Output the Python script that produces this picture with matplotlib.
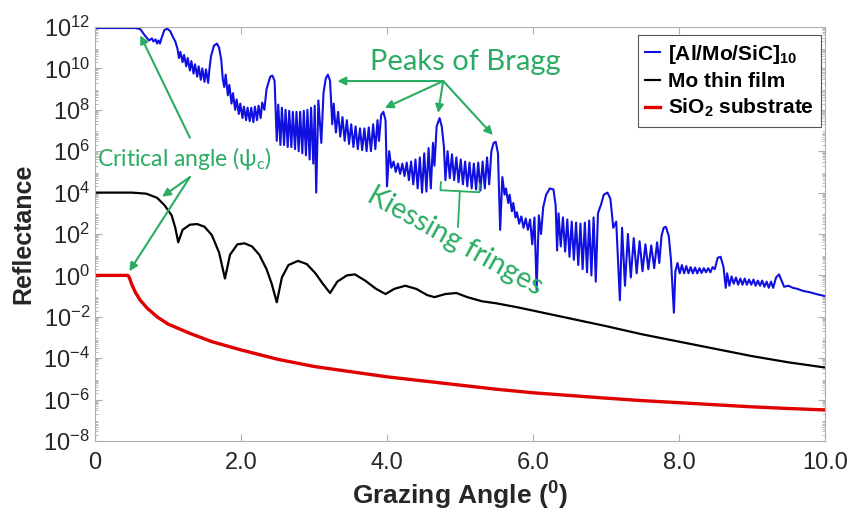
import matplotlib
matplotlib.use("Agg")
import matplotlib.pyplot as plt
from matplotlib.ticker import FixedLocator, FuncFormatter, LogLocator, NullFormatter
import numpy as np

# Blue: [Al/Mo/SiC]10 multilayer, x in degrees, y as log10(reflectance)
blue_x = [0, 0.55, 0.62, 0.68, 0.74, 0.78, 0.80, 0.83, 0.85, 0.87, 0.89, 0.91, 0.95, 0.99, 1.03, 1.07, 1.10,
          1.13, 1.15, 1.17, 1.20, 1.22, 1.25, 1.27, 1.30, 1.32, 1.35, 1.37, 1.40, 1.42, 1.45, 1.47, 1.50, 1.52, 1.55, 1.57, 1.59, 1.63, 1.67, 1.70, 1.73,
          1.75, 1.77, 1.79, 1.82, 1.84, 1.87, 1.89, 1.92, 1.94, 1.97, 1.99, 2.02, 2.04, 2.07, 2.09, 2.12, 2.14, 2.17, 2.19, 2.22, 2.24, 2.27, 2.29, 2.32, 2.35, 2.40, 2.43, 2.46,
          2.49, 2.51, 2.54, 2.56, 2.59, 2.61, 2.64, 2.66, 2.69, 2.71, 2.74, 2.76, 2.79, 2.81, 2.84, 2.86, 2.89, 2.91, 2.94, 2.96, 2.99, 3.01, 3.03, 3.06, 3.10, 3.13, 3.16, 3.19, 3.22, 3.25,
          3.27, 3.30, 3.33, 3.36, 3.39, 3.42, 3.45, 3.48, 3.51, 3.54, 3.57, 3.60, 3.63, 3.66, 3.69, 3.72, 3.75, 3.78, 3.81, 3.84, 3.87, 3.89, 3.92, 3.95, 3.98,
          4.00, 4.03, 4.06, 4.09, 4.12, 4.15, 4.18, 4.21, 4.24, 4.27, 4.30, 4.33, 4.36, 4.39, 4.42, 4.45, 4.48, 4.51, 4.54, 4.57, 4.60, 4.63, 4.65, 4.68, 4.72, 4.75,
          4.78, 4.80, 4.83, 4.86, 4.89, 4.92, 4.95, 4.98, 5.01, 5.04, 5.07, 5.10, 5.13, 5.16, 5.19, 5.22, 5.25, 5.28, 5.31, 5.34, 5.37, 5.40, 5.43, 5.46, 5.49, 5.52,
          5.55, 5.58, 5.61, 5.63, 5.66, 5.68, 5.71, 5.73, 5.76, 5.78, 5.81, 5.84, 5.87, 5.90, 5.93, 5.96, 5.99, 6.02, 6.05, 6.08, 6.11, 6.14, 6.18, 6.23, 6.28, 6.31,
          6.33, 6.35, 6.38, 6.41, 6.44, 6.47, 6.50, 6.53, 6.56, 6.59, 6.62, 6.65, 6.68, 6.71, 6.74, 6.77, 6.80, 6.83, 6.86, 6.89, 6.93, 6.97, 7.02, 7.06,
          7.10, 7.14, 7.19, 7.22, 7.26, 7.30, 7.34, 7.38, 7.42, 7.46, 7.50, 7.54, 7.58, 7.62, 7.66, 7.70, 7.73, 7.76, 7.79, 7.82, 7.86, 7.89, 7.93,
          7.95, 7.98, 8.01, 8.04, 8.07, 8.10, 8.13, 8.16, 8.19, 8.22, 8.25, 8.28, 8.31, 8.34, 8.37, 8.40, 8.43, 8.46, 8.49, 8.53, 8.57, 8.61, 8.64,
          8.66, 8.69, 8.72, 8.75, 8.78, 8.81, 8.84, 8.87, 8.90, 8.93, 8.96, 8.99, 9.02, 9.05, 9.08, 9.11, 9.14, 9.17, 9.20, 9.23, 9.26, 9.29,
          9.33, 9.37, 9.41, 9.44, 9.50, 9.56, 9.62, 9.70, 9.80, 9.90, 10.0]
blue_r = [11.95, 11.95, 11.9, 11.6, 11.35, 11.45, 11.3, 11.4, 11.2, 11.35, 11.2, 11.45, 11.85, 11.92, 11.8, 11.5, 11.3,
          10.95, 10.5, 10.8, 10.3, 10.65, 10.1, 10.5, 9.9, 10.35, 9.75, 10.2, 9.6, 10.1, 9.45, 10.0, 9.35, 9.95, 9.3, 10.05, 10.6, 11.1, 11.2, 11.0, 10.4,
          9.5, 9.1, 9.7, 8.7, 9.2, 8.3, 8.8, 8.0, 8.5, 7.8, 8.3, 7.6, 8.15, 7.5, 8.1, 7.45, 8.1, 7.4, 8.15, 7.5, 8.2, 7.6, 8.35, 8.0, 9.0, 9.6, 9.65, 9.4,
          6.5, 8.25, 6.3, 8.1, 6.3, 8.0, 6.2, 7.95, 6.2, 7.9, 6.1, 7.9, 6.0, 7.9, 5.9, 7.95, 5.8, 8.0, 5.6, 8.1, 5.4, 8.2, 4.0, 8.45, 6.4, 8.8, 9.5, 9.7, 9.4, 7.3,
          8.3, 6.9, 7.9, 6.7, 7.65, 6.5, 7.5, 6.35, 7.3, 6.2, 7.2, 6.1, 7.1, 6.05, 7.1, 6.0, 7.15, 6.0, 7.3, 6.1, 7.5, 6.5, 7.75, 7.9, 7.5,
          4.3, 6.0, 5.2, 5.5, 5.0, 5.4, 4.9, 5.4, 4.8, 5.45, 4.6, 5.5, 4.4, 5.6, 4.2, 5.7, 4.0, 5.9, 4.05, 6.15, 4.2, 6.4, 5.3, 7.2, 7.6, 7.2,
          6.2, 4.6, 6.0, 4.7, 5.85, 4.6, 5.7, 4.5, 5.6, 4.4, 5.5, 4.3, 5.45, 4.2, 5.4, 4.15, 5.45, 4.1, 5.5, 4.2, 5.7, 4.4, 6.0, 6.4, 6.45, 5.9,
          2.2, 4.75, 3.9, 4.2, 3.5, 3.9, 3.1, 3.5, 2.8, 3.05, 2.5, 2.85, 2.3, 2.75, 2.2, 2.7, 1.5, 2.8, -0.7, 2.9, 2.0, 3.3, 3.9, 4.2, 4.15, 3.4,
          1.2, 3.0, 1.4, 2.8, 1.15, 2.7, 0.9, 2.6, 0.75, 2.55, 0.5, 2.5, 0.3, 2.55, 0.15, 2.65, 0.0, 2.8, -0.3, 3.0, 3.4, 3.9, 4.0, 3.7,
          2.3, 2.6, -1.2, 2.3, -0.5, 2.0, -0.1, 1.8, 0.1, 1.65, 0.2, 1.5, 0.3, 1.45, 0.35, 1.6, 0.6, 1.9, 2.3, 2.35, 1.9, 0.75, -1.8,
          0.2, 0.6, 0.1, 0.5, 0.1, 0.45, 0.1, 0.4, 0.1, 0.38, 0.1, 0.35, 0.12, 0.35, 0.15, 0.35, 0.15, 0.4, 0.3, 0.85, 0.9, 0.4, -0.6,
          0.1, -0.5, -0.05, -0.4, -0.1, -0.45, -0.15, -0.45, -0.15, -0.45, -0.2, -0.45, -0.2, -0.5, -0.25, -0.5, -0.25, -0.55, -0.3, -0.6, -0.3, -0.6,
          -0.1, 0.05, -0.3, -0.55, -0.5, -0.6, -0.65, -0.75, -0.82, -0.92, -1.0]

# Black: Mo thin film
mo_x = [0, 0.5, 0.7, 0.85, 0.95, 1.05, 1.10, 1.14, 1.20, 1.30, 1.40, 1.50, 1.60, 1.70, 1.78, 1.85, 1.95, 2.05, 2.15, 2.25,
        2.35, 2.42, 2.49, 2.56, 2.65, 2.78, 2.90, 3.02, 3.12, 3.22, 3.32, 3.45, 3.56, 3.70, 3.85, 3.98, 4.10, 4.25, 4.40, 4.55,
        4.65, 4.80, 4.95, 5.10, 5.30, 5.5, 5.8, 6.2, 6.6, 7.0, 7.5, 8.0, 8.5, 9.0, 9.5, 10.0]
mo_r = [4.0, 4.0, 3.95, 3.75, 3.4, 2.9, 2.3, 1.6, 2.2, 2.45, 2.48, 2.35, 1.95, 1.1, -0.15, 1.0, 1.5, 1.55, 1.4, 1.0,
        0.3, -0.4, -1.3, -0.1, 0.5, 0.7, 0.55, 0.1, -0.4, -0.85, -0.3, 0.0, 0.05, -0.25, -0.65, -0.9, -0.65, -0.5, -0.65, -0.95,
        -1.05, -0.9, -0.85, -1.05, -1.25, -1.35, -1.55, -1.85, -2.15, -2.45, -2.85, -3.2, -3.55, -3.9, -4.2, -4.45]

# Red: SiO2 substrate
sio2_x = [0, 0.45, 0.47, 0.5, 0.55, 0.62, 0.72, 0.85, 1.0, 1.3, 1.6, 2.0, 2.5, 3.0, 3.5, 4.0, 4.5, 5.0, 5.5, 6.0,
          6.5, 7.0, 7.5, 8.0, 8.5, 9.0, 9.5, 10.0]
sio2_r = [0.0, 0.0, -0.1, -0.4, -0.8, -1.2, -1.6, -2.0, -2.35, -2.8, -3.2, -3.6, -4.05, -4.4, -4.65, -4.9, -5.1, -5.3, -5.5, -5.67,
          -5.8, -5.93, -6.05, -6.15, -6.25, -6.35, -6.43, -6.5]

x_ticks = [0, 2, 4, 6, 8, 10]
x_ticklabels = ["0", "2.0", "4.0", "6.0", "8.0", "10.0"]
y_exps = [-8, -6, -4, -2, 0, 2, 4, 6, 8, 10, 12]

# Bragg peaks pointed at (x, log10 R)
bragg_x = [3.32, 3.97, 4.70, 5.45]
bragg_r = [9.39, 8.09, 7.85, 6.78]

font = ["Liberation Sans Narrow", "Liberation Sans", "DejaVu Sans"]
plt.rcParams["font.family"] = font
plt.rcParams["mathtext.fontset"] = "custom"
plt.rcParams["mathtext.rm"] = "Liberation Sans"
plt.rcParams["mathtext.bf"] = "Liberation Sans:bold"
plt.rcParams["mathtext.it"] = "Liberation Sans:italic"
green = "#2aac62"
ann_font = ["Lato", "DejaVu Sans"]

fig = plt.figure(figsize=(8.52, 5.32), dpi=100)
ax = fig.add_axes([95 / 852, 1 - 441 / 532, 730 / 852, 414 / 532])

ax.plot(blue_x, 10.0 ** np.array(blue_r), color="#1010e0", lw=1.5, label=r"[Al/Mo/SiC]$_{\mathbf{10}}$")
ax.plot(mo_x, 10.0 ** np.array(mo_r), color="black", lw=1.6, label="Mo thin film")
ax.plot(sio2_x, 10.0 ** np.array(sio2_r), color="#e00000", lw=2.4, label=r"SiO$_{\mathbf{2}}$ substrate")

ax.set_yscale("log")
ax.set_xlim(0, 10)
ax.set_ylim(1e-8, 1e12)
ax.xaxis.set_major_locator(FixedLocator(x_ticks))
ax.set_xticklabels(x_ticklabels)
ax.yaxis.set_major_locator(FixedLocator([10.0 ** e for e in y_exps]))
ax.yaxis.set_major_formatter(FuncFormatter(lambda v, p: r"$\mathregular{10^{%d}}$" % round(np.log10(v))))
ax.yaxis.set_minor_locator(LogLocator(base=10, subs=np.arange(2, 10), numticks=200))
ax.yaxis.set_minor_formatter(NullFormatter())

ax.tick_params(which="both", direction="in", top=True, right=True, colors="#b0b0b0",
               labelcolor="#262626", labelsize=17)
ax.tick_params(which="major", length=5)
ax.tick_params(which="minor", length=2.5)
ax.tick_params(axis="x", pad=8)
for s in ax.spines.values():
    s.set_color("#b0b0b0")
    s.set_linewidth(0.8)

ax.set_xlabel(r"Grazing Angle ($\mathbf{^0}$)", fontsize=19, fontweight="bold", color="#262626", labelpad=4)
ax.set_ylabel("Reflectance", fontsize=18, fontweight="bold", color="#262626", labelpad=6)

leg = ax.legend(loc="upper right", bbox_to_anchor=(0.998, 0.985), borderaxespad=0.1, handlelength=0.7,
                handletextpad=0.4, borderpad=0.35, labelspacing=0.3, fancybox=False, framealpha=1,
                prop={"family": font, "weight": "bold", "size": 15})
leg.get_frame().set_edgecolor("#555555")
leg.get_frame().set_linewidth(0.8)

# annotations
arrow = dict(arrowstyle="-|>", color=green, lw=1.5, mutation_scale=12, shrinkA=0, shrinkB=0)
ax.text(0.03, 10 ** 5.65, r"Critical angle ($\mathregular{\psi_c}$)", color=green, fontsize=16.5,
        family=ann_font, va="center", ha="left")
ax.annotate("", xy=(0.62, 10 ** 11.6), xytext=(1.30, 10 ** 6.65), arrowprops=arrow)
ax.annotate("", xy=(0.92, 10 ** 3.8), xytext=(1.30, 10 ** 4.75), arrowprops=arrow)
ax.annotate("", xy=(0.47, 10 ** 0.2), xytext=(1.30, 10 ** 4.75), arrowprops=arrow)

ax.text(5.07, 10 ** 10.3, "Peaks of Bragg", color=green, fontsize=21, family=ann_font,
        va="center", ha="center")
for bx, br in zip(bragg_x, bragg_r):
    ax.annotate("", xy=(bx, 10 ** br), xytext=(4.77, 10 ** 9.39), arrowprops=arrow)

ax.annotate("", xy=(5.0, 10 ** 4.2), xytext=(4.97, 10 ** 2.2),
            arrowprops=dict(arrowstyle="-[, widthB=1.4, lengthB=0.6", color=green, lw=1.3))
ax.text(4.93, 10 ** 1.65, "Kiessing fringes", color=green, fontsize=20.5, family=ann_font,
        rotation=-29, rotation_mode="anchor", va="center", ha="center")

fig.savefig("out.png", dpi=100)
